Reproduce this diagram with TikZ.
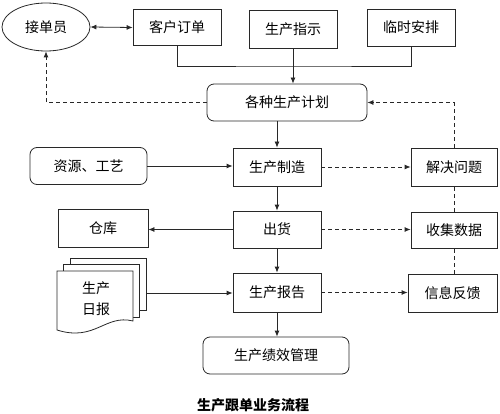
\documentclass[tikz,border=0pt]{standalone}
\usepackage{fontspec}
\usepackage{xcolor}
\usetikzlibrary{
    shapes.geometric,
    arrows.meta,
    positioning,
    calc
}
\newfontfamily\cjk{Noto Sans CJK SC}
\definecolor{lineg}{RGB}{40, 40, 40}

\begin{document}
\begin{tikzpicture}[
        x=1pt, y=-1pt,
        line width=0.8pt, draw=lineg,
        box/.style={draw=lineg, fill=white, minimum width=88pt, minimum height=38pt, inner sep=0pt, align=center, font=\cjk\fontsize{14}{18}\selectfont},
        rbox/.style={box, rounded corners=7pt},
        arrow/.style={-{Latex[length=6pt, width=5pt]}, lineg},
        dasharrow/.style={-{Latex[length=6pt, width=5pt]}, lineg, dashed, dash pattern=on 4pt off 3pt}
    ]
        \useasboundingbox (0,0) rectangle (500,414);

        % Top row
        \node[draw=lineg, ellipse, minimum width=88pt, minimum height=48pt, inner sep=0pt, font=\cjk\fontsize{14}{18}\selectfont] (clerk) at (46, 27) {接单员};
        \node[box, minimum height=36pt] (order) at (177, 27.5) {客户订单};
        \node[box] (instr) at (293, 29) {生产指示};
        \node[box, minimum height=37pt] (temp) at (411, 27.5) {临时安排};

        % Plan
        \node[rbox, minimum width=160pt, minimum height=37pt] (plan) at (287, 102.5) {各种生产计划};
        \coordinate (merge) at (293, 66);

        % Main column
        \node[box] (make) at (277, 167) {生产制造};
        \node[box, minimum height=37pt] (ship) at (277, 229.5) {出货};
        \node[box, minimum height=39pt] (report) at (277, 292.5) {生产报告};
        \node[rbox, minimum width=146pt, minimum height=37pt] (perf) at (276, 355.5) {生产绩效管理};

        % Left column
        \node[rbox, minimum width=117pt, minimum height=37pt] (res) at (88.5, 166) {资源、工艺};
        \node[box, minimum width=90pt] (store) at (103, 228) {仓库};

        % Daily report (document stack)
        \draw[fill=white] (70, 258) rectangle (146, 310);
        \draw[fill=white] (63, 264) rectangle (139, 317);
        \draw[fill=white] (57, 271) -- (133, 271) -- (133, 321)
            .. controls (105, 314) and (95, 342) .. (57, 330) -- cycle;
        \node[font=\cjk\fontsize{14}{21}\selectfont, align=center] (daily) at (96, 299) {生产\\日报};
        \coordinate (dailyR) at (146, 293);

        % Right column
        \node[box, minimum width=86pt] (solve) at (454, 167) {解决问题};
        \node[box, minimum width=86pt, minimum height=36pt] (collect) at (454, 230) {收集数据};
        \node[box, minimum width=89pt] (feedback) at (452.5, 293) {信息反馈};

        % Arrows
        \draw[{Latex[length=6pt, width=5pt]}-{Latex[length=6pt, width=5pt]}, lineg] (clerk.east) -- (order.west);
        \draw (order.south) |- (merge) -| (temp.south);
        \draw[arrow] (instr.south) -- (instr.south |- plan.north);
        \draw[dasharrow] (plan.west) -| (clerk.south);
        \draw[arrow] (plan.south -| make.north) -- (make.north);
        \draw[arrow] (res.east) -- (res.east -| make.west);
        \draw[arrow] (make) -- (ship);
        \draw[arrow] (ship.west) -- (ship.west -| store.east);
        \draw[arrow] (ship) -- (report);
        \draw[arrow] (dailyR) -- (dailyR -| report.west);
        \draw[arrow] (report.south) -- (report.south |- perf.north);

        % Feedback loop
        \draw[dasharrow] (make.east) -- (solve.west);
        \draw[dasharrow] (ship.east) -- (ship.east -| collect.west);
        \draw[dasharrow] (report.east) -- (report.east -| feedback.west);
        \draw[dashed, dash pattern=on 4pt off 3pt] (feedback.north -| collect.south) -- (collect.south);
        \draw[dashed, dash pattern=on 4pt off 3pt] (collect.north) -- (solve.south);
        \draw[dasharrow] (solve.north) |- (plan.east);

        % Caption
        \node[font=\cjk\bfseries\fontsize{14}{18}\selectfont] (title) at (253, 405) {生产跟单业务流程};
    \end{tikzpicture}
\end{document}
